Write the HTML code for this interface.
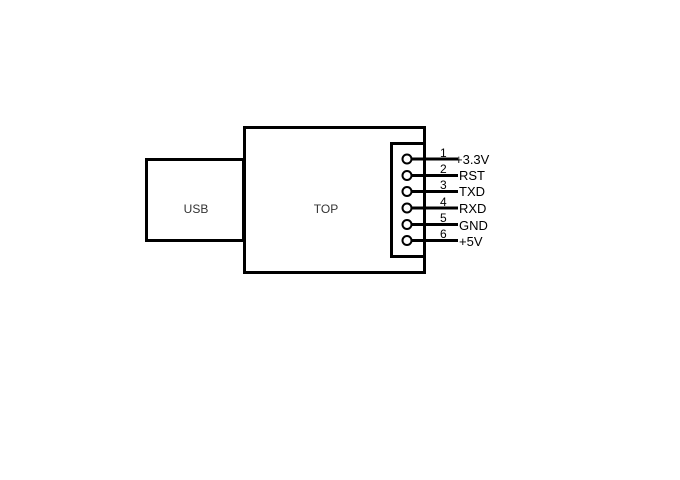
<!DOCTYPE html>
<html><head><style>body{margin:0;background:#fff}svg{display:block}</style></head><body>
<svg width="680" height="480" xmlns="http://www.w3.org/2000/svg" font-family="Liberation Sans, sans-serif" font-size="12">
<rect x="146.5" y="159.5" width="97" height="81" fill="none" stroke="#000" stroke-width="3"/>
<text x="196" y="213" text-anchor="middle" fill="#333">USB</text>
<rect x="244.5" y="127.5" width="180" height="145" fill="#fff" stroke="#000" stroke-width="3"/>
<text x="326" y="213" text-anchor="middle" fill="#333">TOP</text>
<rect x="391.5" y="143.5" width="33" height="113" fill="none" stroke="#000" stroke-width="3"/>
<g stroke="#000" stroke-width="3">
<line x1="411" y1="159" x2="458" y2="159"/>
<line x1="411" y1="175.5" x2="458" y2="175.5"/>
<line x1="411" y1="191.5" x2="458" y2="191.5"/>
<line x1="411" y1="208" x2="458" y2="208"/>
<line x1="411" y1="224.5" x2="458" y2="224.5"/>
<line x1="411" y1="240.5" x2="458" y2="240.5"/>
</g>
<g stroke="#000" stroke-width="2" fill="#fff">
<circle cx="407" cy="159" r="4.5"/>
<circle cx="407" cy="175.5" r="4.5"/>
<circle cx="407" cy="191.5" r="4.5"/>
<circle cx="407" cy="208" r="4.5"/>
<circle cx="407" cy="224.5" r="4.5"/>
<circle cx="407" cy="240.5" r="4.5"/>
</g>
<g fill="#000">
<text x="440" y="157">1</text><text x="440" y="173">2</text><text x="440" y="189">3</text>
<text x="440" y="206">4</text><text x="440" y="222">5</text><text x="440" y="238">6</text>
</g>
<g fill="#000" font-size="13">
<text x="455" y="164">+3.3V</text><text x="459" y="180">RST</text><text x="459" y="196">TXD</text>
<text x="459" y="213">RXD</text><text x="459" y="230">GND</text><text x="459" y="246">+5V</text>
</g>
</svg>
</body></html>
